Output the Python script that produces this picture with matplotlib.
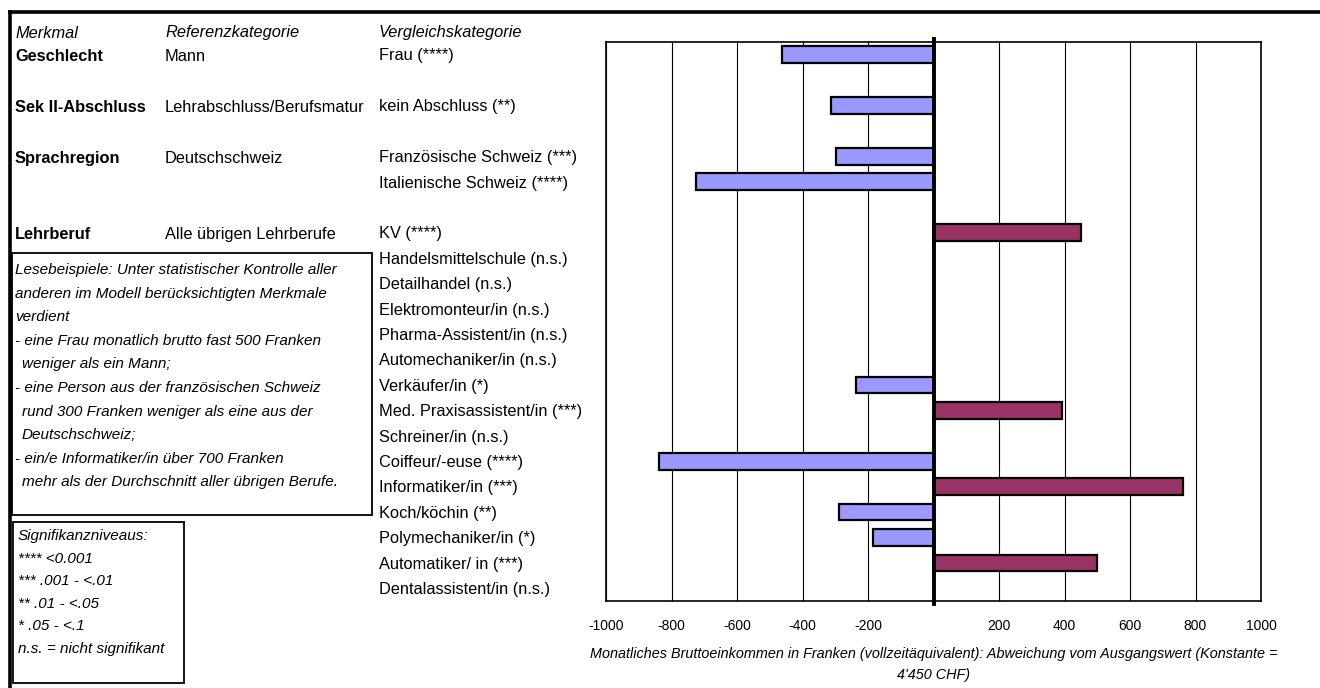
import numpy as np
import matplotlib
matplotlib.use("Agg")
import matplotlib.pyplot as plt
from matplotlib import font_manager
from matplotlib.patches import Rectangle
from matplotlib.lines import Line2D
import matplotlib.transforms as mtransforms

# --- data (rows top -> bottom, "" = spacer row) ---
vergleich = ["Frau (****)", "", "kein Abschluss (**)", "",
             "Französische Schweiz (***)", "Italienische Schweiz (****)", "",
             "KV (****)", "Handelsmittelschule (n.s.)", "Detailhandel (n.s.)",
             "Elektromonteur/in (n.s.)", "Pharma-Assistent/in (n.s.)",
             "Automechaniker/in (n.s.)", "Verkäufer/in (*)",
             "Med. Praxisassistent/in (***)", "Schreiner/in (n.s.)",
             "Coiffeur/-euse (****)", "Informatiker/in (***)", "Koch/köchin (**)",
             "Polymechaniker/in (*)", "Automatiker/ in (***)",
             "Dentalassistent/in (n.s.)"]
# Abweichung in CHF, nan = kein Balken
abweichung = [-463, np.nan, -313, np.nan, -299, -726, np.nan, 450,
              np.nan, np.nan, np.nan, np.nan, np.nan, -237, 391, np.nan,
              -837, 763, -288, -184, 499, np.nan]
merkmal = ["Geschlecht", "Sek II-Abschluss", "Sprachregion", "Lehrberuf"]
referenz = ["Mann", "Lehrabschluss/Berufsmatur", "Deutschschweiz",
            "Alle übrigen Lehrberufe"]
merkmal_row = [0, 2, 4, 7]
xticks = [-1000, -800, -600, -400, -200, 0, 200, 400, 600, 800, 1000]
xticklabels = ["-1000", "-800", "-600", "-400", "-200", "", "200", "400",
               "600", "800", "1000"]
xlabel = ["Monatliches Bruttoeinkommen in Franken (vollzeitäquivalent): "
          "Abweichung vom Ausgangswert (Konstante =", "4'450 CHF)"]
lesebeispiele = [
    (0, "Lesebeispiele: Unter statistischer Kontrolle aller"),
    (0, "anderen im Modell berücksichtigten Merkmale"),
    (0, "verdient"),
    (0, "- eine Frau monatlich brutto fast 500 Franken"),
    (1, "weniger als ein Mann;"),
    (0, "- eine Person aus der französischen Schweiz"),
    (1, "rund 300 Franken weniger als eine aus der"),
    (1, "Deutschschweiz;"),
    (0, "- ein/e Informatiker/in über 700 Franken"),
    (1, "mehr als der Durchschnitt aller übrigen Berufe."),
]
signifikanz = ["Signifikanzniveaus:", "**** <0.001", "*** .001 - <.01",
               "** .01 - <.05", "* .05 - <.1", "n.s. = nicht signifikant"]

BLUE = "#9999FF"
RED = "#993366"

# narrow sans if present (original text is Arial-Narrow like)
names = {f.name for f in font_manager.fontManager.ttflist}
if "Liberation Sans Narrow" in names:
    FAM, k = "Liberation Sans Narrow", 1.0
else:
    FAM, k = "Liberation Sans", 0.82
plt.rcParams["font.family"] = FAM
FS = 14.4 * k
FS_BOX = 13.4 * k
FS_TICK = 12.2 * k
FS_XL = 12.6 * k

W, H = 1320, 688


def fx(px):
    return px / W


def fy(py):
    return 1 - py / H


fig = plt.figure(figsize=(W / 100, H / 100), dpi=100)
ax = fig.add_axes([fx(606), fy(601), fx(1261) - fx(606), fy(42) - fy(601)])

y = np.arange(len(vergleich))
vals = np.array(abweichung, dtype=float)
m = ~np.isnan(vals)
cols = np.where(vals < 0, BLUE, RED)
ax.barh(y[m], vals[m], height=0.66, color=cols[m], edgecolor="black",
        linewidth=1.6, zorder=3)
ax.axvline(0, ymin=-0.006, ymax=1.006, color="black", lw=2.8,
           clip_on=False, zorder=4)

ax.set_xlim(-1000, 1000)
ax.set_ylim(len(vergleich) - 0.5, -0.5)
ax.set_xticks(xticks)
ax.set_xticklabels(xticklabels, fontsize=FS_TICK)
ax.set_yticks([])
ax.tick_params(axis="x", length=0, pad=13)
ax.xaxis.grid(True, color="black", lw=0.8)
ax.set_axisbelow(True)
for s in ax.spines.values():
    s.set_linewidth(1.2)

cx = (fx(606) + fx(1261)) / 2
fig.text(cx, fy(654), xlabel[0], ha="center", va="center",
         style="italic", fontsize=FS_XL)
fig.text(cx, fy(675), xlabel[1], ha="center", va="center",
         style="italic", fontsize=FS_XL)

# left table, y follows the bar rows
tr = mtransforms.blended_transform_factory(fig.transFigure, ax.transData)
for x0, t in [(15, "Merkmal"), (165, "Referenzkategorie"),
              (379, "Vergleichskategorie")]:
    fig.text(fx(x0), fy(33), t, style="italic", fontsize=FS, va="center")
for r, mk, rf in zip(merkmal_row, merkmal, referenz):
    fig.text(fx(15), r + 0.08, mk, transform=tr, fontweight="bold",
             fontsize=FS, va="center")
    fig.text(fx(165), r + 0.08, rf, transform=tr, fontsize=FS, va="center")
for r, lab in enumerate(vergleich):
    if lab:
        fig.text(fx(379), r + 0.05, lab, transform=tr, fontsize=FS,
                 va="center")

# reading example box
fig.add_artist(Rectangle((fx(12), fy(515)), fx(372) - fx(12), fy(253) - fy(515),
                         transform=fig.transFigure, fill=False, lw=1.3,
                         edgecolor="black"))
for i, (ind, t) in enumerate(lesebeispiele):
    fig.text(fx(15 + 7 * ind), fy(270 + 23.6 * i), t, style="italic",
             fontsize=FS_BOX, va="center")

# significance box
fig.add_artist(Rectangle((fx(13), fy(683)), fx(184) - fx(13), fy(522) - fy(683),
                         transform=fig.transFigure, fill=False, lw=1.3,
                         edgecolor="black"))
for i, t in enumerate(signifikanz):
    fig.text(fx(18), fy(536 + 22.6 * i), t, style="italic",
             fontsize=FS_BOX, va="center")

# outer frame (top + left)
fig.add_artist(Line2D([fx(10), 1], [fy(12), fy(12)], color="black", lw=2.6,
                      transform=fig.transFigure))
fig.add_artist(Line2D([fx(10), fx(10)], [fy(12), 0], color="black", lw=2.6,
                      transform=fig.transFigure))

fig.savefig("out.png", dpi=100)
